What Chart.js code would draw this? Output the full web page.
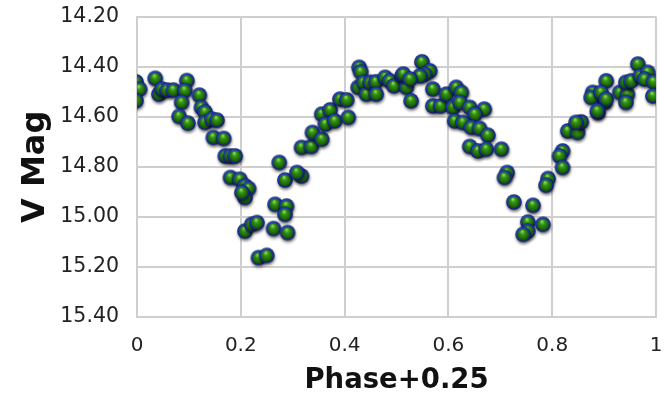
<!DOCTYPE html>
<html>
<head>
<meta charset="utf-8">
<script src="https://cdn.jsdelivr.net/npm/chart.js@4/dist/chart.umd.min.js"></script>
<style>
  html, body { margin: 0; padding: 0; background: #fff; }
  #wrap { width: 665px; height: 397px; }
</style>
</head>
<body>
<div id="wrap"><canvas id="lc"></canvas></div>
<script>
// Light curve data
const phase = [
  0.000, 0.007, 0.000, 0.037, 0.044, 0.050, 0.060, 0.072, 0.098, 0.094,
  0.088, 0.083, 0.100, 0.122, 0.126, 0.133, 0.133, 0.146, 0.156, 0.149,
  0.169, 0.172, 0.182, 0.191, 0.182, 0.200, 0.210, 0.217, 0.210, 0.204,
  0.276, 0.287, 0.319, 0.310, 0.268, 0.290, 0.287, 0.210, 0.223, 0.233,
  0.265, 0.292, 0.236, 0.252, 0.319, 0.338, 0.340, 0.358, 0.358, 0.374,
  0.365, 0.383, 0.393, 0.406, 0.409, 0.430, 0.433, 0.428, 0.438, 0.444,
  0.451, 0.462, 0.463, 0.480, 0.489, 0.497, 0.513, 0.521, 0.530, 0.551,
  0.566, 0.556, 0.547, 0.515, 0.528, 0.572, 0.572, 0.587, 0.598, 0.617,
  0.627, 0.611, 0.624, 0.643, 0.671, 0.653, 0.614, 0.630, 0.646, 0.662,
  0.678, 0.643, 0.659, 0.675, 0.704, 0.715, 0.710, 0.728, 0.765, 0.755,
  0.784, 0.755, 0.746, 0.794, 0.790, 0.822, 0.816, 0.822, 0.832, 0.851,
  0.858, 0.848, 0.890, 0.903, 0.880, 0.877, 0.906, 0.896, 0.906, 0.889,
  0.932, 0.947, 0.944, 0.944, 0.954, 0.967, 0.972, 0.986, 0.980, 0.997,
  0.996
];
const vmag = [
  14.465, 14.494, 14.540, 14.451, 14.514, 14.494, 14.498, 14.498, 14.460, 14.500,
  14.547, 14.603, 14.630, 14.518, 14.567, 14.585, 14.627, 14.614, 14.618, 14.687,
  14.691, 14.761, 14.761, 14.761, 14.847, 14.854, 14.880, 14.891, 14.927, 14.907,
  14.787, 14.857, 14.841, 14.827, 14.954, 14.961, 14.994, 15.061, 15.034, 15.027,
  15.051, 15.067, 15.167, 15.158, 14.727, 14.723, 14.667, 14.694, 14.594, 14.577,
  14.634, 14.621, 14.534, 14.537, 14.607, 14.407, 14.425, 14.487, 14.467, 14.514,
  14.467, 14.465, 14.514, 14.447, 14.461, 14.481, 14.441, 14.487, 14.541, 14.385,
  14.421, 14.434, 14.441, 14.434, 14.454, 14.494, 14.561, 14.561, 14.514, 14.487,
  14.507, 14.567, 14.547, 14.567, 14.574, 14.594, 14.621, 14.627, 14.647, 14.651,
  14.678, 14.723, 14.741, 14.734, 14.734, 14.827, 14.847, 14.945, 14.958, 15.025,
  15.034, 15.061, 15.074, 14.851, 14.878, 14.741, 14.761, 14.807, 14.661, 14.667,
  14.625, 14.627, 14.587, 14.547, 14.507, 14.527, 14.461, 14.507, 14.534, 14.581,
  14.507, 14.514, 14.547, 14.467, 14.461, 14.394, 14.441, 14.427, 14.454, 14.465,
  14.521
];

// Green ball with blue rim and a little drop shadow
function makeBall() {
  const c = document.createElement('canvas');
  c.width = 22;
  c.height = 22;
  const g = c.getContext('2d');
  const cx = 10, cy = 10;

  g.save();
  g.shadowColor = 'rgba(0,0,0,0.55)';
  g.shadowBlur = 3;
  g.shadowOffsetY = 2;
  g.shadowOffsetX = 0.5;
  const rim = g.createRadialGradient(cx - 2, cy - 3, 1, cx, cy, 7.8);
  rim.addColorStop(0, '#3a5ee0');
  rim.addColorStop(0.75, '#1c36a8');
  rim.addColorStop(1, '#0b1650');
  g.fillStyle = rim;
  g.beginPath();
  g.arc(cx, cy, 7.8, 0, Math.PI * 2);
  g.fill();
  g.restore();

  const body = g.createRadialGradient(cx - 1, cy - 3, 0.5, cx, cy, 6);
  body.addColorStop(0, '#8fd860');
  body.addColorStop(0.35, '#359414');
  body.addColorStop(0.8, '#1d6a06');
  body.addColorStop(1, '#124a08');
  g.fillStyle = body;
  g.beginPath();
  g.arc(cx, cy + 0.3, 5.8, 0, Math.PI * 2);
  g.fill();
  return c;
}

const ball = makeBall();
const points = phase.map((p, i) => ({ x: p, y: vmag[i] }));

const gridColor = '#cfcfcf';

new Chart(document.getElementById('lc').getContext('2d'), {
  type: 'scatter',
  data: {
    datasets: [{
      label: 'V',
      data: points,
      pointStyle: ball,
      pointRadius: 8,
      pointHoverRadius: 8
    }]
  },
  options: {
    responsive: true,
    maintainAspectRatio: false,
    animation: false,
    layout: {
      padding: { top: 0, right: 0, bottom: 0, left: 0 }
    },
    plugins: {
      legend: { display: false },
      tooltip: { enabled: false }
    },
    scales: {
      x: {
        type: 'linear',
        min: 0,
        max: 1,
        ticks: {
          stepSize: 0.2,
          color: '#222',
          padding: 17,
          font: { family: 'DejaVu Sans', size: 20 },
          callback: v => Number(v.toFixed(1)).toString()
        },
        grid: { color: gridColor, lineWidth: 2, drawTicks: false },
        border: { color: gridColor, width: 2 },
        title: {
          display: true,
          text: 'Phase+0.25',
          color: '#111',
          font: { family: 'DejaVu Sans', size: 27.5, weight: 'bold' },
          padding: { top: 0, bottom: 0 }
        },
        afterFit: s => {
          s.height = 80;
          s.paddingLeft = 0;
          s.paddingRight = 8;
        }
      },
      y: {
        type: 'linear',
        reverse: true,
        min: 14.2,
        max: 15.4,
        ticks: {
          stepSize: 0.2,
          color: '#222',
          padding: 18,
          font: { family: 'DejaVu Sans', size: 20.5 },
          callback: v => v.toFixed(2)
        },
        grid: { color: gridColor, lineWidth: 2, drawTicks: false },
        border: { color: gridColor, width: 2 },
        title: {
          display: true,
          text: 'V Mag',
          color: '#111',
          font: { family: 'DejaVu Sans', size: 32, weight: 'bold' },
          padding: { top: 16, bottom: 0 }
        },
        afterFit: s => {
          s.width = 137;
          s.paddingTop = 16.5;
          s.paddingBottom = 12;
        }
      }
    }
  }
});
</script>
</body>
</html>
